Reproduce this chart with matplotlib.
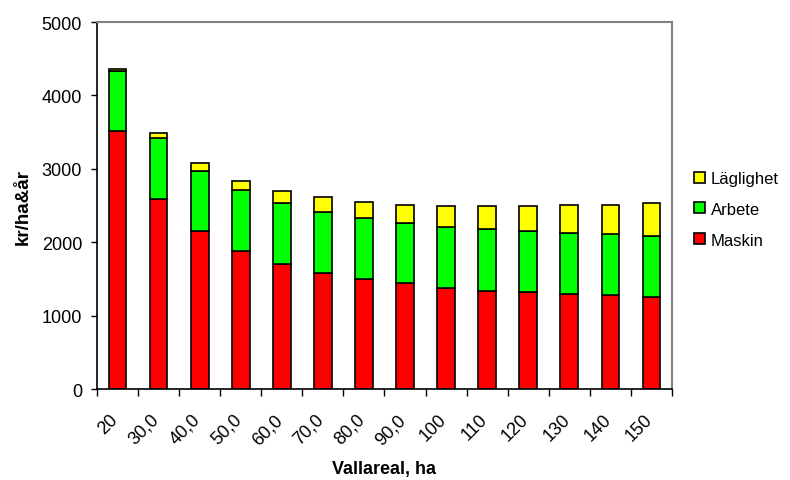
import numpy as np
import matplotlib.pyplot as plt
import matplotlib.transforms as mtransforms

plt.rcParams['font.family'] = ['Liberation Sans', 'DejaVu Sans']

# Data (kr/ha&år)
categories = ['20', '30,0', '40,0', '50,0', '60,0', '70,0', '80,0',
              '90,0', '100', '110', '120', '130', '140', '150']
maskin = [3510, 2595, 2150, 1886, 1709, 1586, 1505,
          1441, 1382, 1341, 1318, 1300, 1277, 1259]
arbete = [820, 828, 827, 828, 827, 824, 827,
          827, 827, 845, 832, 832, 832, 832]
laglighet = [25, 63, 105, 127, 159, 213, 223,
             246, 286, 309, 345, 382, 405, 441]

fig = plt.figure(figsize=(7.90, 4.81), dpi=100)
ax = fig.add_axes([0.1228, 0.189, 0.7278, 0.763])

x = np.arange(len(categories))
w = 0.43
edge = dict(edgecolor='black', linewidth=1.2)
b1 = ax.bar(x, maskin, w, color='#FF0000', label='Maskin', **edge)
bottom2 = np.array(maskin)
b2 = ax.bar(x, arbete, w, bottom=bottom2, color='#00FF00', label='Arbete', **edge)
bottom3 = bottom2 + np.array(arbete)
b3 = ax.bar(x, laglighet, w, bottom=bottom3, color='#FFFF00', label='Läglighet', **edge)

ax.set_xlim(-0.5, len(categories) - 0.5)
ax.set_ylim(0, 5000)
ax.set_yticks(np.arange(0, 5001, 1000))
ax.set_xticks(x)
ax.set_xticklabels(categories, rotation=45, ha='right', rotation_mode='anchor', fontsize=13)
ax.set_xticks(np.arange(-0.5, len(categories), 1), minor=True)
ax.tick_params(axis='x', which='major', length=0, pad=15.5)
ax.tick_params(axis='x', which='minor', length=5, direction='out', width=1)
ax.tick_params(axis='y', labelsize=13, length=4.3, width=1, pad=6.5)

# shift rotated labels a little to the left, like the original
shift = mtransforms.ScaledTranslation(-0.08, 0, fig.dpi_scale_trans)
for lab in ax.get_xticklabels():
    lab.set_transform(lab.get_transform() + shift)

for s in ['left', 'bottom']:
    ax.spines[s].set_color('black')
    ax.spines[s].set_linewidth(1.2)
for s in ['top', 'right']:
    ax.spines[s].set_color('#808080')
    ax.spines[s].set_linewidth(1.5)

ax.set_xlabel('Vallareal, ha', fontsize=13, fontweight='bold')
ax.xaxis.set_label_coords(0.5, -0.193)
ax.set_ylabel('kr/ha&år', fontsize=13.5, fontweight='bold', labelpad=7)

leg = ax.legend(handles=[b3, b2, b1], loc='center left', bbox_to_anchor=(1.012, 0.49),
                frameon=False, fontsize=12, handlelength=0.65, handleheight=0.65,
                handletextpad=0.35, labelspacing=0.95)

fig.savefig('out.png', dpi=100)
